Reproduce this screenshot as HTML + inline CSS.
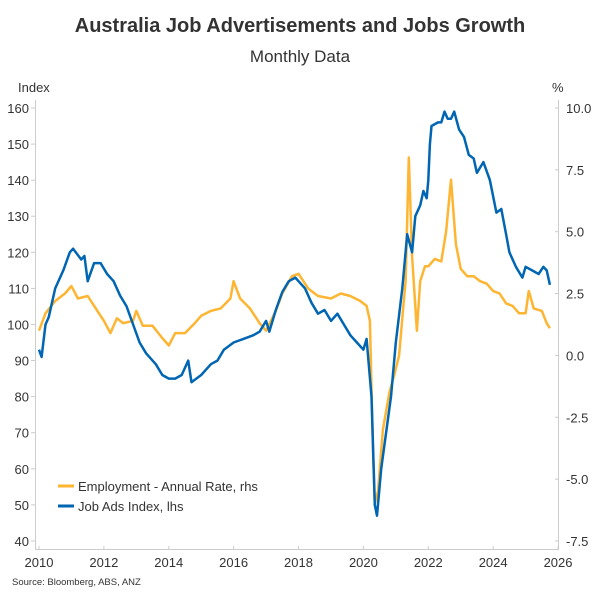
<!DOCTYPE html>
<html><head><meta charset="utf-8"><style>
body{margin:0;background:#fff;}
text{font-family:"Liberation Sans",sans-serif;fill:#333;}
</style></head><body>
<svg id="s" width="600" height="600" xmlns="http://www.w3.org/2000/svg">
<text x="300" y="32" text-anchor="middle" font-size="20" font-weight="bold">Australia Job Advertisements and Jobs Growth</text>
<text x="300" y="62" text-anchor="middle" font-size="17" fill="#444">Monthly Data</text>
<text x="18" y="92" font-size="13">Index</text>
<text x="552" y="92" font-size="13">%</text>
<g stroke="#ccc" stroke-width="1">
<line x1="35.5" y1="100" x2="35.5" y2="549"/>
<line x1="558.5" y1="100" x2="558.5" y2="549"/>
<line x1="35" y1="549.5" x2="559" y2="549.5"/>
</g>
<g id="ax"></g>
<g id="ser"></g>
<line x1="58" y1="486" x2="74" y2="486" stroke="#FDB532" stroke-width="3"/>
<text x="78" y="491" font-size="13">Employment - Annual Rate, rhs</text>
<line x1="58" y1="506" x2="74" y2="506" stroke="#0066B3" stroke-width="3"/>
<text x="78" y="511" font-size="13">Job Ads Index, lhs</text>
<text x="12" y="585" font-size="9.5">Source: Bloomberg, ABS, ANZ</text>
</svg>
<script>
function X(t){return 39+(t-2010)*32.44;}
function YL(v){return 108+(160-v)*3.608;}
function YR(r){return 108+(10-r)*24.74;}
var ax=document.getElementById('ax'),h='';
for(var v=40;v<=160;v+=10){var y=YL(v);h+='<line x1="31" x2="35" y1="'+y+'" y2="'+y+'" stroke="#ccc"/><text x="29" y="'+(y+5)+'" font-size="13" text-anchor="end">'+v+'</text>';}
for(var r=-7.5;r<=10;r+=2.5){var y=YR(r);h+='<line x1="555" x2="559" y1="'+y+'" y2="'+y+'" stroke="#ccc"/><text x="566" y="'+(y+5)+'" font-size="13">'+r.toFixed(1)+'</text>';}
for(var t=2010;t<=2026;t+=2){var x=X(t);h+='<line x1="'+x+'" x2="'+x+'" y1="546" y2="550" stroke="#ccc"/><text x="'+x+'" y="567" font-size="13" text-anchor="middle">'+t+'</text>';}
ax.innerHTML=h;
var blue=[2010,93,2010.08,91,2010.2,100,2010.3,102,2010.5,110,2010.75,115,2010.95,120,2011.05,121,2011.3,118,2011.4,119,2011.5,112,2011.7,117,2011.9,117,2012.1,114,2012.3,112,2012.5,108,2012.7,105,2012.9,100,2013.1,95,2013.3,92,2013.6,89,2013.8,86,2014.0,85,2014.2,85,2014.4,86,2014.6,90,2014.7,84,2015.0,86,2015.3,89,2015.5,90,2015.7,93,2016.0,95,2016.3,96,2016.6,97,2016.8,98,2017.0,101,2017.1,98,2017.3,104,2017.5,109,2017.7,112,2017.9,113,2018.0,112,2018.2,110,2018.4,106,2018.6,103,2018.8,104,2019.0,101,2019.2,103,2019.4,100,2019.6,97,2019.8,95,2020.0,93,2020.1,96,2020.25,80,2020.35,50,2020.42,47,2020.55,60,2020.7,70,2020.85,80,2021.0,95,2021.2,110,2021.35,125,2021.5,120,2021.6,130,2021.75,133,2021.85,137,2021.95,135,2022.0,140,2022.05,150,2022.1,155,2022.3,156,2022.4,156,2022.5,159,2022.6,157,2022.7,157,2022.8,159,2022.95,154,2023.1,152,2023.25,147,2023.4,146,2023.5,142,2023.7,145,2023.9,140,2024.1,131,2024.25,132,2024.4,125,2024.5,120,2024.7,116,2024.9,113,2025.0,116,2025.2,115,2025.4,114,2025.55,116,2025.65,115,2025.75,111];
var org=[2010.0,1.0,2010.2,1.7,2010.5,2.2,2010.8,2.5,2011.0,2.8,2011.2,2.3,2011.5,2.4,2011.8,1.8,2012.0,1.4,2012.2,0.9,2012.4,1.5,2012.6,1.3,2012.9,1.4,2013.0,1.8,2013.2,1.2,2013.5,1.2,2013.8,0.7,2014.0,0.4,2014.2,0.9,2014.5,0.9,2014.8,1.3,2015.0,1.6,2015.3,1.8,2015.6,1.9,2015.9,2.3,2016.0,3.0,2016.2,2.3,2016.5,1.9,2016.8,1.3,2017.0,1.0,2017.3,1.8,2017.5,2.5,2017.8,3.2,2018.0,3.3,2018.3,2.7,2018.6,2.4,2019.0,2.3,2019.3,2.5,2019.6,2.4,2019.9,2.2,2020.1,2.0,2020.2,1.4,2020.3,-4.0,2020.35,-6.0,2020.45,-5.5,2020.6,-3.0,2020.8,-1.5,2020.95,-0.8,2021.1,0.0,2021.2,1.5,2021.3,3.0,2021.4,8.0,2021.5,4.0,2021.65,1.0,2021.75,3.0,2021.9,3.6,2022.0,3.6,2022.2,3.9,2022.4,3.8,2022.55,5.0,2022.7,7.1,2022.85,4.5,2023.0,3.5,2023.2,3.2,2023.4,3.2,2023.6,3.0,2023.8,2.9,2024.0,2.6,2024.2,2.5,2024.4,2.1,2024.6,2.0,2024.8,1.7,2025.0,1.7,2025.1,2.6,2025.25,1.9,2025.5,1.8,2025.65,1.3,2025.75,1.1];
function pts(a,f){var p=[];for(var i=0;i<a.length;i+=2)p.push(X(a[i]).toFixed(1)+','+f(a[i+1]).toFixed(1));return p.join(' ');}
document.getElementById('ser').innerHTML='<polyline fill="none" stroke="#FDB532" stroke-width="2.5" stroke-linejoin="round" points="'+pts(org,YR)+'"/><polyline fill="none" stroke="#0066B3" stroke-width="2.5" stroke-linejoin="round" points="'+pts(blue,YL)+'"/>';
</script>
</body></html>
